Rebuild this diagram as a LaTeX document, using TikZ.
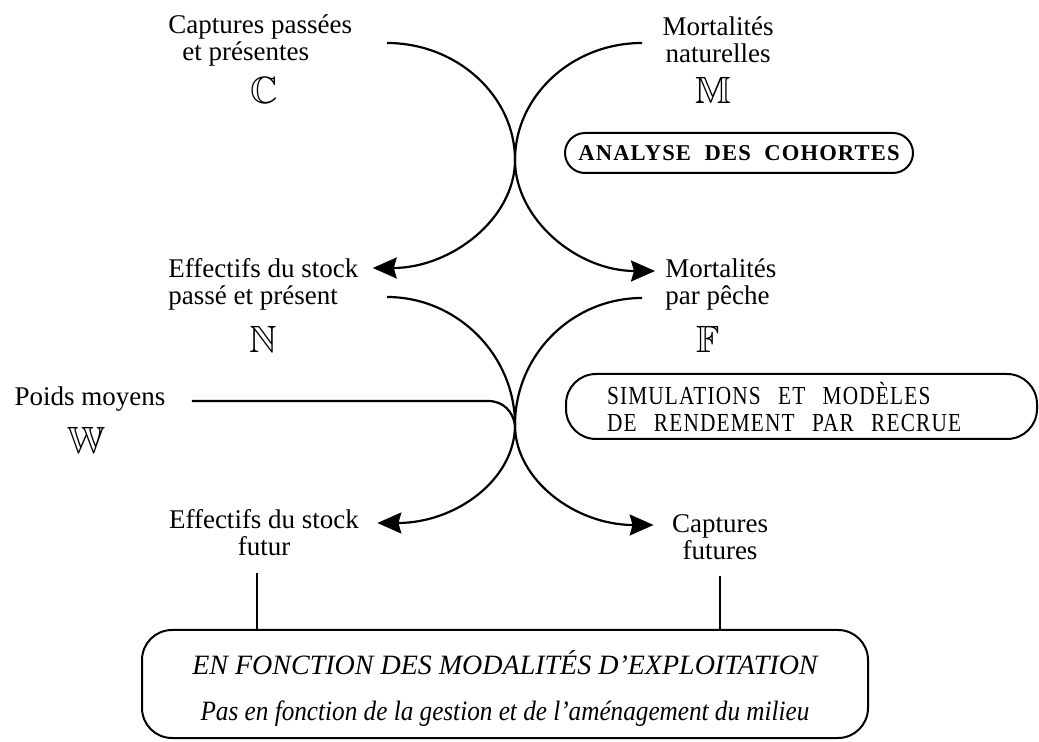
\documentclass[tikz,border=0pt]{standalone}
\usepackage{fontspec}
\setmainfont{Liberation Serif}
\newfontfamily\spacedfont[LetterSpace=5]{Liberation Serif}
\newfontfamily\narrowfont[LetterSpace=4.5,FakeStretch=0.82]{Liberation Serif}
\newfontfamily\slimfont[Ligatures=TeX,FakeStretch=0.9]{Liberation Serif}
\usepackage{amssymb}
\usetikzlibrary{arrows.meta,positioning}
\newcommand\lblfont{\fontsize{13.5}{13.5}\selectfont}

\begin{document}
\begin{tikzpicture}[
    x=0.5pt, y=-0.5pt,
    lbl/.style={font=\lblfont, inner sep=0pt},
    bbletter/.style={font=\fontsize{19}{19}\selectfont, inner sep=0pt},
    flow/.style={line width=1.1pt, -{Stealth[length=12pt,width=10.5pt,inset=1.5pt]}},
    joint/.style={line width=1.1pt},
    pillbox/.style={draw, line width=1pt, inner sep=0pt},
    tieline/.style={line width=0.8pt}
  ]
  \useasboundingbox (0,0) rectangle (1039,742);

  % first row: past catches and natural mortality
  \node[lbl, anchor=west, align=left] (cap) at (168,40) {Captures passées\\\hspace*{7pt}et présentes};
  \node[bbletter] (C) at (264,90) {$\mathbb{C}$};
  \node[lbl, align=center] (natm) at (718,40) {Mortalités\\naturelles};
  \node[bbletter] (M) at (713,90) {$\mathbb{M}$};
  \node[pillbox, rounded corners=10pt, minimum width=174pt, minimum height=20pt,
        font=\fontsize{11.3}{12}\spacedfont\bfseries] (cohort) at (739,153)
        {ANALYSE\ \ DES\ \ COHORTES};

  % second row: stock size and fishing mortality
  \node[lbl, anchor=west, align=left] (stockp) at (168,284) {Effectifs du stock\\passé et présent};
  \node[bbletter] (N) at (263,339) {$\mathbb{N}$};
  \node[lbl, anchor=west, align=left] (fishm) at (665,284) {Mortalités\\par pêche};
  \node[bbletter] (F) at (708,339) {$\mathbb{F}$};
  \node[pillbox, rounded corners=15pt, minimum width=235.5pt, minimum height=32.5pt,
        text width=194.5pt, inner xsep=20.5pt, align=left,
        font=\fontsize{13}{13.5}\narrowfont] (simul) at (801.5,406.5)
        {SIMULATIONS\ \ ET\ \ MODÈLES\\DE\ \ RENDEMENT\ \ PAR\ \ RECRUE};

  \node[lbl] (weight) at (90,399) {Poids moyens};
  \node[bbletter] (W) at (86,440) {$\mathbb{W}$};

  % third row: forecasts
  \node[lbl, align=center] (stockf) at (264,533) {Effectifs du stock\\futur};
  \node[lbl, align=center] (capf) at (720,537) {Captures\\futures};

  \node[pillbox, rounded corners=15pt, minimum width=363pt, minimum height=54pt,
        align=center, font=\fontsize{14}{14}\selectfont\itshape] (mgmt) at (505,684)
        {\rule{0pt}{16pt}EN FONCTION DES MODALITÉS D'EXPLOITATION\\[9pt]
         {\slimfont\itshape Pas en fonction de la gestion et de l'aménagement du milieu}};

  % crossing arcs
  \coordinate (s1) at (387,43);
  \coordinate (s2) at (642,43);
  \coordinate (k1) at (515,160);
  \coordinate (s3) at (387,297);
  \coordinate (s4) at (642,298);
  \coordinate (k2) at (515,425);

  \draw[flow] (s1) .. controls +(70,0) and +(0,-64) .. (k1)
                   .. controls +(0,59) and +(78,0) .. ([xshift=7pt,yshift=8pt]stockp.east);
  \draw[flow] (s2) .. controls +(-70,0) and +(0,-64) .. (k1)
                   .. controls +(0,59) and +(-78,0) .. ([xshift=-5pt,yshift=6.5pt]fishm.west);
  \draw[flow] (s3) .. controls +(70,0) and +(0,-70) .. (k2)
                   .. controls +(0,55) and +(78,0) .. ([xshift=9pt,yshift=5pt]stockf.east);
  \draw[flow] (s4) .. controls +(-70,0) and +(0,-70) .. (k2)
                   .. controls +(0,55) and +(-78,0) .. ([xshift=-9pt,yshift=6pt]capf.west);
  \draw[joint] ([xshift=13pt,yshift=-1pt]weight.east) -- ++(296,0)
                   .. controls +(17,0) and +(-2,-12) .. (k2);

  % ties down to the bottom box
  \coordinate (t1) at ([xshift=-3.5pt,yshift=-8pt]stockf.south);
  \coordinate (t2) at ([yshift=-8pt]capf.south);
  \draw[tieline] (t1) -- (t1 |- mgmt.north);
  \draw[tieline] (t2) -- (t2 |- mgmt.north);
\end{tikzpicture}
\end{document}
